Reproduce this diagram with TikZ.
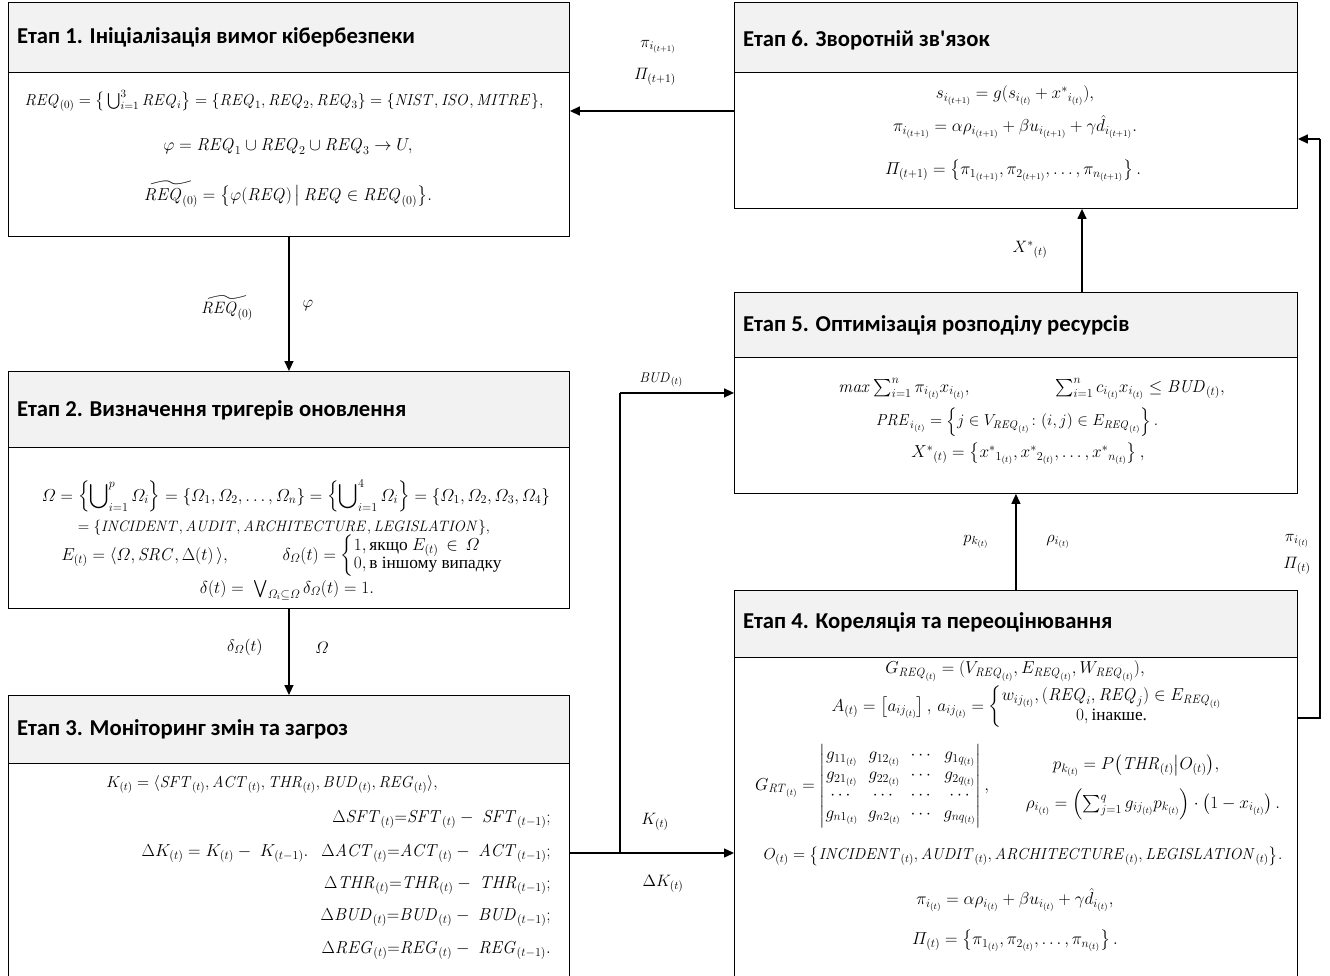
\RequirePackage{fix-cm}
\documentclass[tikz,border=0pt]{standalone}
\usepackage{amsmath,amssymb}
\usepackage[no-math]{fontspec}
\newfontfamily\titlefont{Carlito}
\newfontfamily\cyrserif{Liberation Serif}
\usetikzlibrary{arrows.meta,calc}
\newcommand\mi[1]{\mathit{#1}}
\newcommand\tx[1]{\text{\cyrserif #1}}
\definecolor{headgray}{HTML}{F2F2F2}
\tikzset{
  stagebox/.style={draw=black, line width=0.9pt, fill=white, anchor=north west, inner sep=0pt},
  headbox/.style={draw=black, line width=0.9pt, fill=headgray, anchor=north west, inner sep=0pt},
  ttl/.style={anchor=west, inner sep=0pt, font=\titlefont\bfseries\fontsize{22.7}{27}\selectfont},
  eq/.style={inner sep=0pt, font=\fontsize{17.3}{20}\selectfont},
  eqs/.style={inner sep=0pt, font=\fontsize{15.9}{18}\selectfont},
  eqt/.style={inner sep=0pt, font=\fontsize{15.1}{17}\selectfont},
  lbl/.style={inner sep=0pt, font=\fontsize{16.5}{19}\selectfont},
  arr/.style={line width=1.4pt, -{Triangle[length=10pt,width=9pt]}},
}
\begin{document}
\begin{tikzpicture}[x=1pt,y=-1pt]
\useasboundingbox (0,0) rectangle (1330,976);
\clip (0,0) rectangle (1330,976);
\fill[white] (0,0) rectangle (1330,976);

% ---------- Stage 1
\node[stagebox, minimum width=561, minimum height=234] (s1) at (8,2) {};
\node[headbox, minimum width=561, minimum height=70] (h1) at (8,2) {};
\node[ttl] (t1) at (17,37) {Етап 1. Ініціалізація вимог кібербезпеки};
\node[eqs] (e11) at (284,101) {$\mi{REQ}_{(0)}=\big\{\textstyle\bigcup_{i=1}^{3}\mi{REQ}_i\big\}=\{\mi{REQ}_1,\mi{REQ}_2,\mi{REQ}_3\}=\{\mi{NIST},\mi{ISO},\mi{MITRE}\},$};
\node[eq] (e12) at (288,147) {$\varphi=\mi{REQ}_1\cup\mi{REQ}_2\cup\mi{REQ}_3\to U,$};
\node[eq] (e13) at (288,194) {$\widetilde{\mi{REQ}_{(0)}}=\big\{\varphi(\mi{REQ})\,\big|\,\mi{REQ}\in\mi{REQ}_{(0)}\big\}.$};

% ---------- Stage 2
\node[stagebox, minimum width=561, minimum height=237] (s2) at (8,371) {};
\node[headbox, minimum width=561, minimum height=76] (h2) at (8,371) {};
\node[ttl] (t2) at (17,410) {Етап 2. Визначення тригерів оновлення};
\node[eq] (e21) at (296,496) {$\varOmega=\left\{\displaystyle\bigcup\nolimits_{i=1}^{p}\varOmega_i\right\}=\{\varOmega_1,\varOmega_2,\ldots,\varOmega_n\}=\left\{\displaystyle\bigcup\nolimits_{i=1}^{4}\varOmega_i\right\}=\{\varOmega_1,\varOmega_2,\varOmega_3,\varOmega_4\}$};
\node[eqt] (e22) at (284,528) {$=\{\mi{INCIDENT},\mi{AUDIT},\mi{ARCHITECTURE},\mi{LEGISLATION}\},$};
\node[eq] (e23) at (282,556) {\renewcommand\arraystretch{0.88}$E_{(t)}=\langle\varOmega,\mi{SRC},\Delta(t)\,\rangle,\qquad\quad \delta_{\varOmega}(t)=\left\{\begin{array}{@{}l@{}}1,\tx{якщо }E_{(t)}\,\in\,\varOmega\\0,\tx{в іншому випадку}\end{array}\right.$};
\node[eq] (e24) at (287,590) {$\delta(t)=\;\textstyle\bigvee_{\varOmega_i\subseteq\varOmega}\delta_{\varOmega}(t)=1.$};

% ---------- Stage 3
\node[stagebox, minimum width=561, minimum height=300] (s3) at (8,695) {};
\node[headbox, minimum width=561, minimum height=68] (h3) at (8,695) {};
\node[ttl] (t3) at (17,729) {Етап 3. Моніторинг змін та загроз};
\node[eqs] (e31) at (272,784) {$K_{(t)}=\langle\mi{SFT}_{(t)},\mi{ACT}_{(t)},\mi{THR}_{(t)},\mi{BUD}_{(t)},\mi{REG}_{(t)}\rangle,$};
\node[eq] (e32) at (225,854) {$\Delta K_{(t)}=K_{(t)}-\;K_{(t-1)}.$};
\node[eq, anchor=east] (e33) at (551,820) {$\Delta\mi{SFT}_{(t)}{=}\mi{SFT}_{(t)}-\;\mi{SFT}_{(t-1)};$};
\node[eq, anchor=east] (e34) at (551,854) {$\Delta\mi{ACT}_{(t)}{=}\mi{ACT}_{(t)}-\;\mi{ACT}_{(t-1)};$};
\node[eq, anchor=east] (e35) at (551,886) {$\Delta\mi{THR}_{(t)}{=}\mi{THR}_{(t)}-\;\mi{THR}_{(t-1)};$};
\node[eq, anchor=east] (e36) at (551,918) {$\Delta\mi{BUD}_{(t)}{=}\mi{BUD}_{(t)}-\;\mi{BUD}_{(t-1)};$};
\node[eq, anchor=east] (e37) at (551,951) {$\Delta\mi{REG}_{(t)}{=}\mi{REG}_{(t)}-\;\mi{REG}_{(t-1)}.$};

% ---------- Stage 4
\node[stagebox, minimum width=563, minimum height=400] (s4) at (734,590) {};
\node[headbox, minimum width=563, minimum height=67] (h4) at (734,590) {};
\node[ttl] (t4) at (743,622) {Етап 4. Кореляція та переоцінювання};
\node[eq] (e41) at (1015,671) {$G_{\mi{REQ}_{(t)}}=(V_{\mi{REQ}_{(t)}},E_{\mi{REQ}_{(t)}},W_{\mi{REQ}_{(t)}}),$};
\node[eq] (e42) at (1027,707) {\renewcommand\arraystretch{0.9}$A_{(t)}=\left[a_{ij_{(t)}}\right],\,a_{ij_{(t)}}=\left\{\begin{array}{@{}c@{}}w_{ij_{(t)}},(\mi{REQ}_i,\mi{REQ}_j)\in E_{\mi{REQ}_{(t)}}\\ 0,\tx{інакше.}\end{array}\right.$};
\node[eq] (e43) at (872,786) {\renewcommand\arraystretch{0.92}$G_{\mi{RT}_{(t)}}=\begin{vmatrix}g_{11_{(t)}}&g_{12_{(t)}}&\cdots&g_{1q_{(t)}}\\g_{21_{(t)}}&g_{22_{(t)}}&\cdots&g_{2q_{(t)}}\\\cdots&\cdots&\cdots&\cdots\\g_{n1_{(t)}}&g_{n2_{(t)}}&\cdots&g_{nq_{(t)}}\end{vmatrix},$};
\node[eq] (e44) at (1136,766) {$p_{k_{(t)}}=P\big(\mi{THR}_{(t)}\big|O_{(t)}\big),$};
\node[eq] (e45) at (1153,804) {$\rho_{i_{(t)}}=\left(\sum_{j=1}^{q}g_{ij_{(t)}}p_{k_{(t)}}\right)\cdot\left(1-x_{i_{(t)}}\right).$};
\node[eqs] (e46) at (1023,856) {$O_{(t)}=\big\{\mi{INCIDENT}_{(t)},\mi{AUDIT}_{(t)},\mi{ARCHITECTURE}_{(t)},\mi{LEGISLATION}_{(t)}\big\}.$};
\node[eq] (e47) at (1015,900) {$\pi_{i_{(t)}}=\alpha\rho_{i_{(t)}}+\beta u_{i_{(t)}}+\gamma\hat{d}_{i_{(t)}},$};
\node[eq] (e48) at (1015,941) {$\varPi_{(t)}=\left\{\pi_{1_{(t)}},\pi_{2_{(t)}},\ldots,\pi_{n_{(t)}}\right\}.$};

% ---------- Stage 5
\node[stagebox, minimum width=563, minimum height=201] (s5) at (734,292) {};
\node[headbox, minimum width=563, minimum height=65] (h5) at (734,292) {};
\node[ttl] (t5) at (743,325) {Етап 5. Оптимізація розподілу ресурсів};
\node[eq] (e51) at (904,389) {$\mi{max}\sum_{i=1}^{n}\pi_{i_{(t)}}x_{i_{(t)}},$};
\node[eq] (e52) at (1140,389) {$\sum_{i=1}^{n}c_{i_{(t)}}x_{i_{(t)}}\le\mi{BUD}_{(t)},$};
\node[eqs] (e53) at (1017,422) {$\mi{PRE}_{i_{(t)}}=\left\{j\in V_{\mi{REQ}_{(t)}}\colon(i,j)\in E_{\mi{REQ}_{(t)}}\right\}.$};
\node[eq] (e54) at (1028,454) {$X^{*}{}_{(t)}=\left\{x^{*}{}_{1_{(t)}},x^{*}{}_{2_{(t)}},\ldots,x^{*}{}_{n_{(t)}}\right\},$};

% ---------- Stage 6
\node[stagebox, minimum width=563, minimum height=206] (s6) at (734,2) {};
\node[headbox, minimum width=563, minimum height=70] (h6) at (734,2) {};
\node[ttl] (t6) at (743,40) {Етап 6. Зворотній зв'язок};
\node[eq] (e61) at (1015,96) {$s_{i_{(t+1)}}=g(s_{i_{(t)}}+x^{*}{}_{i_{(t)}}),$};
\node[eq] (e62) at (1015,127) {$\pi_{i_{(t+1)}}=\alpha\rho_{i_{(t+1)}}+\beta u_{i_{(t+1)}}+\gamma\hat{d}_{i_{(t+1)}}.$};
\node[eq] (e63) at (1013,171) {$\varPi_{(t+1)}=\left\{\pi_{1_{(t+1)}},\pi_{2_{(t+1)}},\ldots,\pi_{n_{(t+1)}}\right\}.$};

% ---------- connectors
\coordinate (j34) at (620,853);
\coordinate (c56) at (1082,250);
\coordinate (c61) at (650,111);
\coordinate (o1) at (1320,718);
\coordinate (o2) at (1320,139);

\draw[arr] (s1.south) -- (s2.north);
\draw[arr] (s2.south) -- (s3.north);
\draw[arr] (s3.east |- j34) -- (s4.west |- j34);
\draw[line width=1.4pt] (j34) -- (j34 |- s5.west);
\draw[arr] (j34 |- s5.west) -- (s5.west);
\draw[arr] (s4.north) -- (s5.south);
\draw[arr] (s5.north -| c56) -- (s6.south -| c56);
\draw[arr] (s6.west |- c61) -- (s1.east |- c61);
\draw[line width=1.4pt] (s4.east |- o1) -- (o1) -- (o2);
\draw[arr] (o2) -- (s6.east |- o2);

% ---------- connector labels
\node[lbl] (l1a) at (227,308) {$\widetilde{\mi{REQ}_{(0)}}$};
\node[lbl] (l1b) at (308,306) {$\varphi$};
\node[lbl] (l2a) at (245,647) {$\delta_{\varOmega}(t)$};
\node[lbl] (l2b) at (322,648) {$\varOmega$};
\node[lbl] (l3a) at (655,822) {$K_{(t)}$};
\node[lbl] (l3b) at (663,884) {$\Delta K_{(t)}$};
\node[lbl, font=\fontsize{14}{16}\selectfont] (l3c) at (661,380) {$\mi{BUD}_{(t)}$};
\node[lbl] (l4a) at (976,542) {$p_{k_{(t)}}$};
\node[lbl] (l4b) at (1058,542) {$\rho_{i_{(t)}}$};
\node[lbl] (l5a) at (1030,250) {$X^{*}{}_{(t)}$};
\node[lbl] (l6a) at (658,47) {$\pi_{i_{(t+1)}}$};
\node[lbl] (l6b) at (655,77) {$\varPi_{(t+1)}$};
\node[lbl] (l7a) at (1297,541) {$\pi_{i_{(t)}}$};
\node[lbl] (l7b) at (1297,566) {$\varPi_{(t)}$};
\end{tikzpicture}
\end{document}
